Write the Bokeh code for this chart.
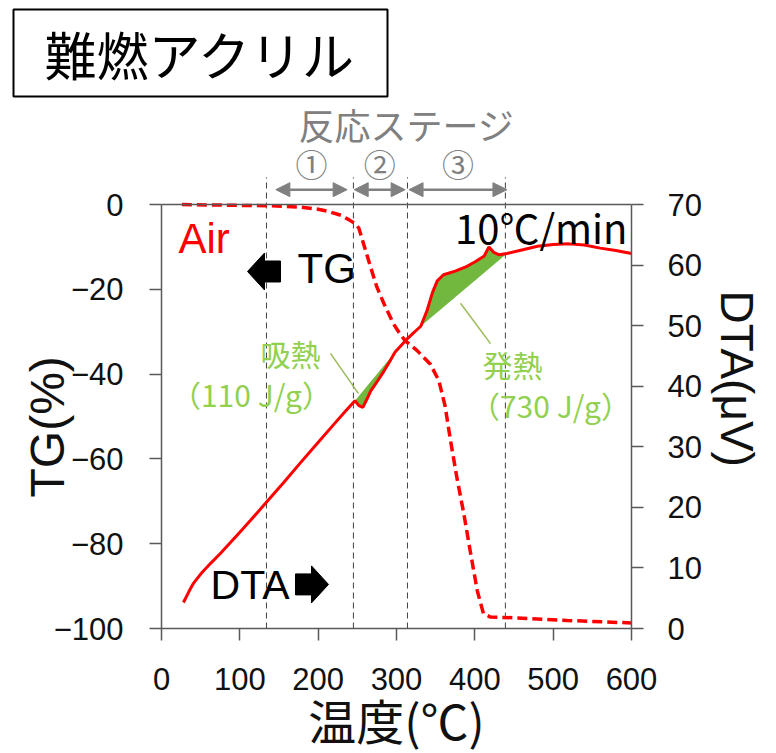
from bokeh.plotting import figure
from bokeh.models import Range1d, LinearAxis, FixedTicker, Span, Arrow, NormalHead, Title
from bokeh.core.properties import value
from bokeh.embed import file_html
from bokeh.resources import INLINE

# ---------------- data ----------------
temp_tg = [26, 60, 100, 140, 177, 200, 212, 230, 241, 248, 252, 258, 267, 275, 284, 296,
           304, 311, 326, 343, 354, 362, 369, 377, 386, 394, 403, 411, 420, 454, 518, 600]
tg = [0, -0.1, -0.2, -0.3, -0.6, -1.1, -1.6, -2.6, -3.8, -4.6, -5.6, -9.3, -14.8, -19.5, -23.4, -28.1,
      -30.4, -32.1, -34.4, -37.6, -41.5, -47.5, -55.7, -64.3, -73.0, -81.6, -91.0, -96.5, -97.3, -97.5, -98.1, -98.7]

temp_dta = [28, 35, 41, 52, 63, 76, 88, 100, 114, 135, 156, 177, 199, 220, 235, 247, 252, 257, 262, 267,
            276, 284, 291, 298, 305, 312, 320, 331, 339, 346, 352, 360, 375, 390, 401, 412, 418, 424,
            431, 441, 460, 480, 500, 520, 540, 560, 580, 600]
dta = [4.3, 6.1, 7.5, 9.3, 10.8, 12.5, 14.2, 15.9, 17.9, 21.0, 24.1, 27.3, 30.6, 33.7, 35.9, 37.6, 36.8, 36.5, 37.8, 39.2,
       40.9, 42.5, 44.0, 45.6, 46.6, 47.6, 48.6, 49.9, 52.5, 55.5, 57.4, 58.4, 59.0, 59.8, 60.6, 61.5, 63.0, 62.1,
       61.7, 61.9, 62.5, 63.1, 63.4, 63.5, 63.3, 62.8, 62.4, 61.9]

endo_range = (247, 298)   # 吸熱 peak area
exo_range = (331, 441)    # 発熱 peak area

stage_edges = [134, 245, 314, 439]
stage_arrows = [(146, 237), (246, 311), (316, 441)]
stage_names = ["①", "②", "③"]

x_ticks = [0, 100, 200, 300, 400, 500, 600]
tg_ticks = [-100, -80, -60, -40, -20, 0]
dta_ticks = [0, 10, 20, 30, 40, 50, 60, 70]

RED = "#ff0000"
GREEN_FILL = "#72b83e"
GREEN_TEXT = "#92d050"
GRAY = "#808080"
AXIS = "#595959"
JP = "Noto Sans CJK JP"
LAT = "Liberation Sans"

FW, FH = 470, 528
X0, X1 = 0, 600
Y0, Y1 = -100, 24.53
D0, D1 = 0, 87.17

# ---------------- figure ----------------
p = figure(frame_width=FW, frame_height=FH,
           x_range=Range1d(X0, X1), y_range=Range1d(Y0, Y1),
           min_border_left=161, min_border_right=139, min_border_top=100, min_border_bottom=118,
           output_backend="svg", toolbar_location=None)
p.outline_line_color = None
p.xgrid.visible = False
p.ygrid.visible = False
p.background_fill_color = "white"
p.border_fill_color = "white"
p.extra_y_ranges = {"dta": Range1d(D0, D1)}

# boxed title
p.title.text = "難燃アクリル"
p.title.text_font = JP
p.title.text_font_size = "52px"
p.title.text_font_style = "normal"
p.title.text_color = "black"
p.title.align = "left"
p.title.offset = -148
p.title.standoff = 8
p.title.border_line_color = "black"
p.title.border_line_width = 2
p.title.background_fill_color = "white"
p.title.padding = dict(left=31, right=31, top=6, bottom=6)

def style_axis(ax, standoff):
    ax.axis_line_color = AXIS
    ax.axis_line_width = 1.5
    ax.major_tick_line_color = AXIS
    ax.major_tick_line_width = 1.5
    ax.major_tick_in = 0
    ax.major_tick_out = 12
    ax.minor_tick_line_color = None
    ax.major_label_text_font = LAT
    ax.major_label_text_font_size = "31px"
    ax.major_label_text_color = "#111111"
    ax.major_label_standoff = standoff
    ax.axis_label_text_font_style = "normal"
    ax.axis_label_text_color = "#111111"

xa = p.xaxis[0]
style_axis(xa, 27)
xa.ticker = FixedTicker(ticks=x_ticks)
xa.axis_label = "温度(℃)"
xa.axis_label_text_font = JP
xa.axis_label_text_font_size = "48px"
xa.axis_label_standoff = -9

ya = p.yaxis[0]
style_axis(ya, 26)
ya.ticker = FixedTicker(ticks=tg_ticks)
ya.bounds = (-100, 0)

ra = LinearAxis(y_range_name="dta", bounds=(0, 70), ticker=FixedTicker(ticks=dta_ticks))
style_axis(ra, 24)
p.add_layout(ra, "right")

# axis titles (placed beside the axes, positioned along them like the original)
p.add_layout(Title(text="TG(%)", text_font=LAT, text_font_size="48px", text_font_style="normal",
                   text_color="#111111", align="left", offset=131, standoff=-47), "left")
p.add_layout(Title(text="DTA(μV)", text_font=LAT, text_font_size="46px", text_font_style="normal",
                   text_color="#111111", align="left", offset=190, standoff=13), "right")

# top border of the plot box at TG = 0
p.add_layout(Span(location=0, dimension="width", line_color=AXIS, line_width=1.5))

# stage boundaries
p.segment(x0=stage_edges, y0=[-100] * 4, x1=stage_edges, y1=[6.4] * 4,
          line_color="#404040", line_width=1, line_dash="6 4")

# heat areas
endo_x = [t for t in temp_dta if endo_range[0] <= t <= endo_range[1]]
endo_y = [d for t, d in zip(temp_dta, dta) if endo_range[0] <= t <= endo_range[1]]
exo_x = [t for t in temp_dta if exo_range[0] <= t <= exo_range[1]]
exo_y = [d for t, d in zip(temp_dta, dta) if exo_range[0] <= t <= exo_range[1]]
p.patch(endo_x, endo_y, fill_color=GREEN_FILL, line_color=None, y_range_name="dta")
p.patch(exo_x, exo_y, fill_color=GREEN_FILL, line_color=None, y_range_name="dta")

# curves
p.line(temp_tg, tg, line_color=RED, line_width=3.5, line_dash="10 5")
p.line(temp_dta, dta, line_color=RED, line_width=3, y_range_name="dta")

# leader lines
p.segment(x0=[215.7, 381.7], y0=[-35.1, -23.3], x1=[251.5, 420], y1=[-44.6, -32.8],
          line_color="#9bbb59", line_width=1.5)

# stage annotations
p.text(x=[312.8], y=[18.9], text=["反応ステージ"], text_font=value(JP), text_font_size="36px",
       text_color=GRAY, text_align="center", text_baseline="middle")
mids = [(a + b) / 2 for a, b in stage_arrows]
p.text(x=mids, y=[9.7] * 3, text=stage_names, text_font=value(JP), text_font_size="32px",
       text_color=GRAY, text_align="center", text_baseline="middle")
for a, b in stage_arrows:
    p.add_layout(Arrow(x_start=a, y_start=3.5, x_end=b, y_end=3.5, line_color=GRAY, line_width=2.5,
                       start=NormalHead(size=14, fill_color=GRAY, line_color=GRAY),
                       end=NormalHead(size=14, fill_color=GRAY, line_color=GRAY)))

# block arrows pointing to the axis each curve belongs to
SX = (X1 - X0) / FW
SY = (Y1 - Y0) / FH
shape = [(0, 0), (17, -18.5), (17, -10.5), (33, -10.5), (33, 10.5), (17, 10.5), (17, 18.5)]
def block_arrow(tip_x, tip_y, direction):
    xs = [tip_x - direction * dx * SX for dx, dy in shape]
    ys = [tip_y + dy * SY for dx, dy in shape]
    return xs, ys
lx, ly = block_arrow(109.8, -15.8, -1)
rx, ry = block_arrow(213.2, -89.6, 1)
p.patches([lx, rx], [ly, ry], fill_color="black", line_color="black")

# labels in the plot
p.text(x=[21.7], y=[-8.0], text=["Air"], text_font=value(LAT), text_font_size="42px",
       text_color=RED, text_align="left", text_baseline="middle")
p.text(x=[173.6], y=[-15.0], text=["TG"], text_font=value(LAT), text_font_size="42px",
       text_color="black", text_align="left", text_baseline="middle")
p.text(x=[62.6], y=[-89.7], text=["DTA"], text_font=value(LAT), text_font_size="41px",
       text_color="black", text_align="left", text_baseline="middle")
p.text(x=[594.9], y=[-5.4], text=["10℃/min"], text_font=value(JP), text_font_size="40px",
       text_color="black", text_align="right", text_baseline="middle")

p.text(x=[164.7, 448.0], y=[-35.1, -37.5], text=["吸熱", "発熱"], text_font=value(JP),
       text_font_size="30px", text_color=GREEN_TEXT, text_align="center", text_baseline="middle")
p.text(x=[114.9, 496.6], y=[-44.8, -47.4], text=["（110 J/g）", "（730 J/g）"], text_font=value(JP),
       text_font_size="30px", text_color=GREEN_TEXT, text_align="center", text_baseline="middle")

open("out.html", "w").write(file_html(p, INLINE))
